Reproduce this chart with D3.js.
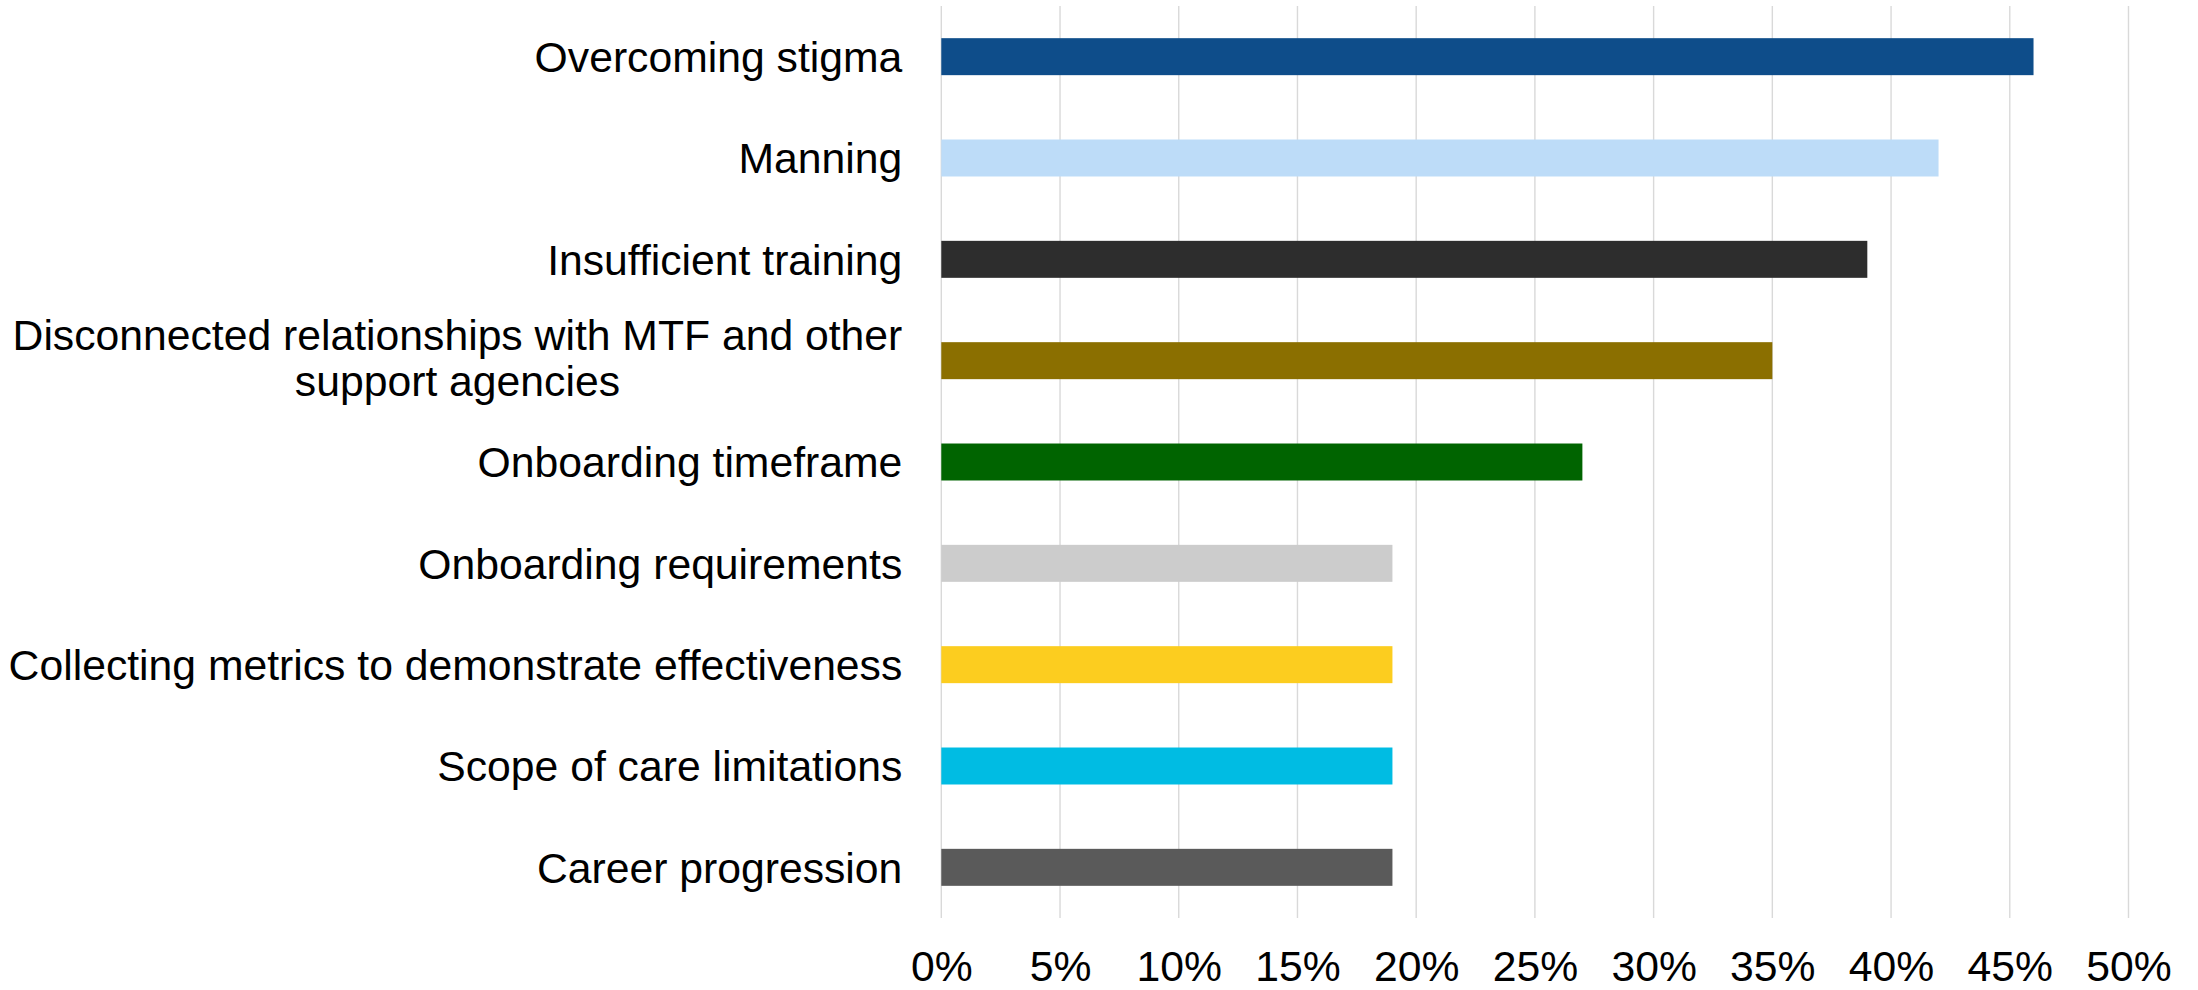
<!DOCTYPE html>
<html>
<head>
<meta charset="utf-8">
<script src="https://cdn.jsdelivr.net/npm/d3@7"></script>
<style>
  html, body { margin: 0; padding: 0; background: #ffffff; }
  svg { display: block; }
  text { font-family: "Liberation Sans", Arial, sans-serif; fill: #000000; }
</style>
</head>
<body>
<svg id="chart" width="2198" height="990"></svg>
<script>
// Reported challenges, share of respondents
const categories = [
  "Overcoming stigma",
  "Manning",
  "Insufficient training",
  "Disconnected relationships with MTF and other support agencies",
  "Onboarding timeframe",
  "Onboarding requirements",
  "Collecting metrics to demonstrate effectiveness",
  "Scope of care limitations",
  "Career progression"
];
const values = [0.46, 0.42, 0.39, 0.35, 0.27, 0.19, 0.19, 0.19, 0.19];
const barColors = [
  "#0e4d8a", "#bddcf8", "#2d2d2d", "#8b6f00", "#006400",
  "#cccccc", "#fccd1f", "#00bce3", "#5a5a5a"
];
const tickValues = [0, 0.05, 0.10, 0.15, 0.20, 0.25, 0.30, 0.35, 0.40, 0.45, 0.50];

const svg = d3.select("#chart");
const plot = { left: 941.3, right: 2128.5, top: 6, bottom: 918 };
const fontSize = 42.7;

const x = d3.scaleLinear().domain([0, 0.5]).range([plot.left, plot.right]);
const y = d3.scaleBand()
  .domain(categories)
  .range([plot.top, plot.bottom])
  .paddingInner(0.635)
  .paddingOuter(0.3175);

// Vertical gridlines
svg.append("g")
  .selectAll("line")
  .data(tickValues)
  .join("line")
  .attr("x1", d => x(d)).attr("x2", d => x(d))
  .attr("y1", plot.top).attr("y2", plot.bottom)
  .attr("stroke", "#d9d9d9")
  .attr("stroke-width", 1.4);

// Bars
svg.append("g")
  .selectAll("rect")
  .data(categories)
  .join("rect")
  .attr("x", x(0))
  .attr("y", d => y(d))
  .attr("width", (d, i) => x(values[i]) - x(0))
  .attr("height", y.bandwidth())
  .attr("fill", (d, i) => barColors[i]);

// Bottom axis: percentage labels only
const xAxis = svg.append("g")
  .attr("transform", `translate(0,${plot.bottom})`)
  .call(d3.axisBottom(x).tickValues(tickValues).tickFormat(d3.format(".0%")).tickSize(0).tickPadding(33));
xAxis.select(".domain").remove();
xAxis.selectAll("text")
  .style("font-family", '"Liberation Sans", Arial, sans-serif')
  .style("font-size", fontSize + "px")
  .attr("fill", "#000000");

// Left axis: category labels, wrapped to the space left of the plot
const yAxis = svg.append("g")
  .attr("transform", `translate(${plot.left},0)`)
  .call(d3.axisLeft(y).tickSize(0).tickPadding(39));
yAxis.select(".domain").remove();

const maxLabelWidth = 910;
const lineHeight = 46;
yAxis.selectAll("text")
  .style("font-family", '"Liberation Sans", Arial, sans-serif')
  .style("font-size", fontSize + "px")
  .attr("fill", "#000000")
  .each(function(d) {
    const text = d3.select(this);
    const xPos = +text.attr("x");
    const words = d.split(" ");
    text.text(null).attr("dy", null);
    const lines = [];
    let current = [];
    const probe = text.append("tspan").attr("x", xPos);
    words.forEach(w => {
      const attempt = current.concat(w).join(" ");
      probe.text(attempt);
      if (probe.node().getComputedTextLength() > maxLabelWidth && current.length) {
        lines.push(current.join(" "));
        current = [w];
      } else {
        current.push(w);
      }
    });
    lines.push(current.join(" "));
    // widest line, for centring wrapped labels under each other
    let widest = 0;
    lines.forEach(line => {
      probe.text(line);
      widest = Math.max(widest, probe.node().getComputedTextLength());
    });
    probe.remove();

    if (lines.length === 1) {
      text.append("tspan")
        .attr("x", xPos)
        .attr("y", 0.358 * fontSize)
        .text(lines[0]);
    } else {
      const first = 0.358 * fontSize - lineHeight * (lines.length - 1) / 2 - 3;
      text.attr("text-anchor", "middle");
      lines.forEach((line, i) => {
        text.append("tspan")
          .attr("x", xPos - widest / 2)
          .attr("y", first + i * lineHeight)
          .text(line);
      });
    }
  });
</script>
</body>
</html>
